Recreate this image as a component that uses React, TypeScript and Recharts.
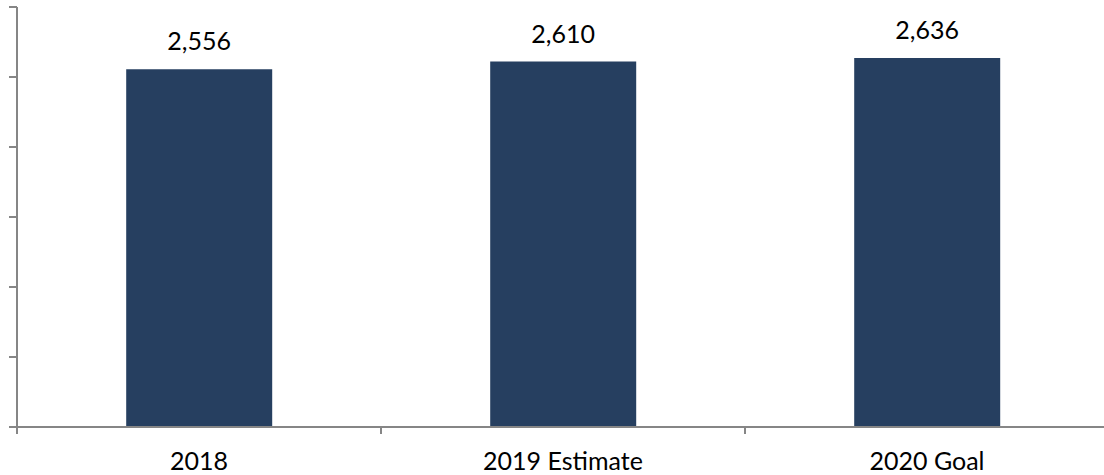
import { BarChart, Bar, XAxis, YAxis, LabelList } from "recharts";

const categories = ["2018", "2019 Estimate", "2020 Goal"];
const values = [2556, 2610, 2636];
const yTicks = [0, 500, 1000, 1500, 2000, 2500, 3000];

const data = categories.map((name, i) => ({ name, value: values[i] }));

const axisColor = "#868686";
const font = "Lato, 'Open Sans', sans-serif";

// category label centred in the band, with the tick mark drawn at the band's edges
function CategoryTick(props: any) {
  const { x, y, payload, index, visibleTicksCount } = props;
  const half = payload && payload.offset ? payload.offset : 0;
  const isLast = index === visibleTicksCount - 1;
  return (
    <g>
      <line x1={x - half} x2={x - half} y1={y} y2={y + 7} stroke={axisColor} strokeWidth={2} />
      {isLast && <line x1={x + half} x2={x + half} y1={y} y2={y + 7} stroke={axisColor} strokeWidth={2} />}
      <text x={x} y={y + 25} dy="0.71em" textAnchor="middle" fontSize={25} fill="#000" fontFamily={font}>
        {payload.value}
      </text>
    </g>
  );
}

export default function App() {
  return (
    <div style={{ position: "absolute", left: 0, top: 0, width: 1104, height: 475, overflow: "hidden", background: "#fff" }}>
      <BarChart
        width={1109}
        height={475}
        data={data}
        margin={{ top: 7, right: 0, left: 16, bottom: 0 }}
        barCategoryGap="30%"
      >
        <YAxis
          type="number"
          domain={[0, 3000]}
          ticks={yTicks}
          interval={0}
          width={1}
          axisLine={{ stroke: axisColor, strokeWidth: 2 }}
          tickLine={{ stroke: axisColor, strokeWidth: 2 }}
          tickSize={8}
          tick={() => <g />}
        />
        <XAxis
          dataKey="name"
          type="category"
          height={48}
          axisLine={{ stroke: axisColor, strokeWidth: 2 }}
          tickLine={false}
          tickSize={0}
          tickMargin={0}
          tick={<CategoryTick />}
          interval={0}
        />
        <Bar dataKey="value" fill="#263F60" isAnimationActive={false}>
          <LabelList
            dataKey="value"
            position="top"
            offset={19}
            formatter={(v: number) => v.toLocaleString("en-US")}
            style={{ fontSize: 25, fill: "#000", fontFamily: font }}
          />
        </Bar>
      </BarChart>
    </div>
  );
}
